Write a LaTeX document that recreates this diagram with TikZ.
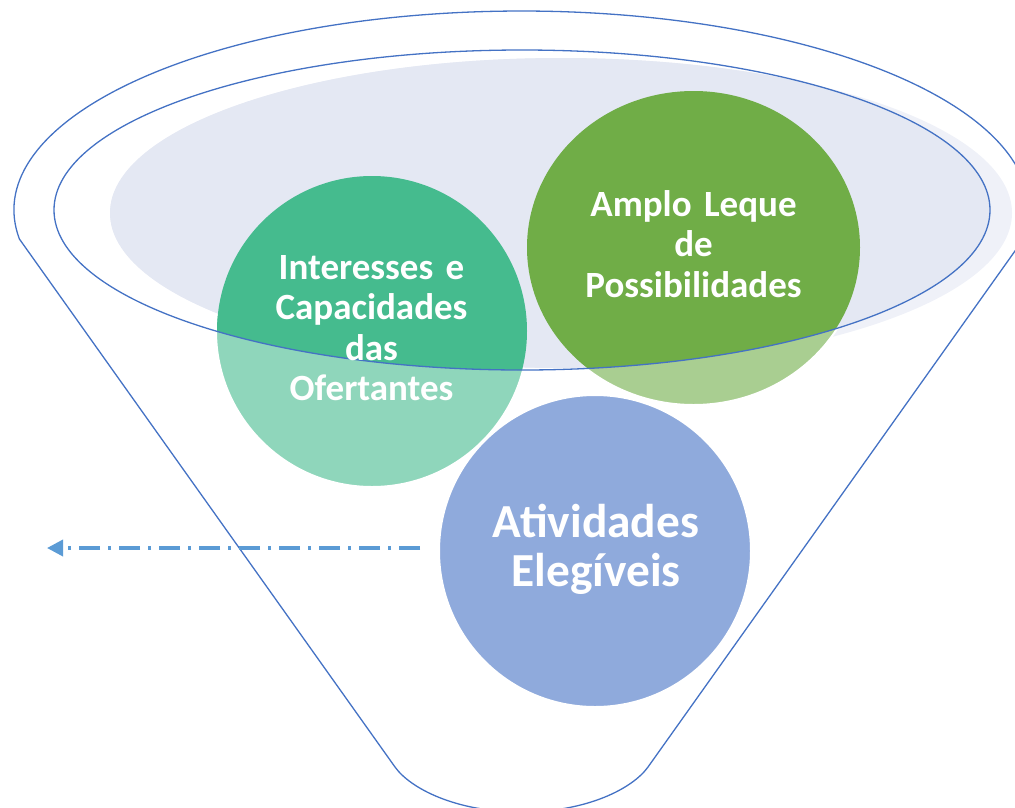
\documentclass[tikz,border=0pt]{standalone}
\usepackage{fontspec}
\setmainfont{Carlito}
\usetikzlibrary{arrows.meta,shapes.geometric}
\definecolor{tealD}{HTML}{45BB8E}
\definecolor{tealL}{HTML}{8FD6BB}
\definecolor{greenD}{HTML}{70AD47}
\definecolor{greenL}{HTML}{A9CE91}
\definecolor{blueC}{HTML}{8FAADC}
\definecolor{lavD}{HTML}{E4E8F3}
\definecolor{lavL}{HTML}{EFF1F8}
\definecolor{funnelc}{HTML}{4472C4}
\definecolor{arrowc}{HTML}{5B9BD5}
\begin{document}
\begin{tikzpicture}[x=1pt,y=-1pt,
  funnel/.style={draw=funnelc, line width=1.3pt},
  bubble/.style={circle, minimum size=312pt, inner sep=0pt, draw=white, line width=2pt},
  obubble/.style={ellipse, minimum width=335pt, minimum height=315pt, inner sep=0pt, draw=white, line width=2pt},
  txt/.style={text=white, font=\bfseries\fontsize{37}{40.5}\selectfont, text width=300pt, align=center, anchor=base, inner sep=0pt},
  bigtxt/.style={txt, font=\bfseries\fontsize{47.4}{49.8}\selectfont},
  flow/.style={draw=arrowc, line width=3.5pt, dash pattern=on 21pt off 8pt on 3pt off 8pt, -{Triangle[length=16pt,width=16pt]}}
]
\useasboundingbox (0,0) rectangle (1015,807);
\clip (0,0) rectangle (1015,807);

% mouth fill (light part)
\fill[lavL] (561,213) ellipse [x radius=451, y radius=155];

% bubbles (light part + white border)
\node[bubble, fill=tealL] (ic) at (372,331) {};
\node[obubble, fill=greenL] (al) at (693.5,247.5) {};
\node[bubble, fill=blueC] (atv) at (595,551) {};

% parts inside the funnel mouth
\begin{scope}
  \clip (522,210) ellipse [x radius=468, y radius=160];
  \fill[lavD] (561,213) ellipse [x radius=451, y radius=155];
  \fill[tealD] (ic.center) circle [radius=155];
  \fill[greenD] (al.center) ellipse [x radius=166.5, y radius=156.5];
\end{scope}

% funnel outline
\draw[funnel] (19.4,239) arc [start angle=171.62, end angle=368.38, x radius=507.5, y radius=199]
  -- (648,767) .. controls (633,788) and (588,812) .. (521.5,812)
  .. controls (455,812) and (410,788) .. (395,767) -- cycle;
\draw[funnel] (522,210) ellipse [x radius=468, y radius=160];

% texts
\node[txt] (ict) at (371.5,279) {Interesses e\\Capacidades\\das\\Ofertantes};
\node[txt] (alt) at (693.5,216) {Amplo Leque\\de\\Possibilidades};
\node[bigtxt] (atvt) at (596,537) {Atividades\\Eleg\'iveis};

% arrow
\coordinate (tip) at (47,548);
\draw[flow, shorten <=18pt] ([yshift=3pt]atv.west) -- (tip);
\end{tikzpicture}
\end{document}
